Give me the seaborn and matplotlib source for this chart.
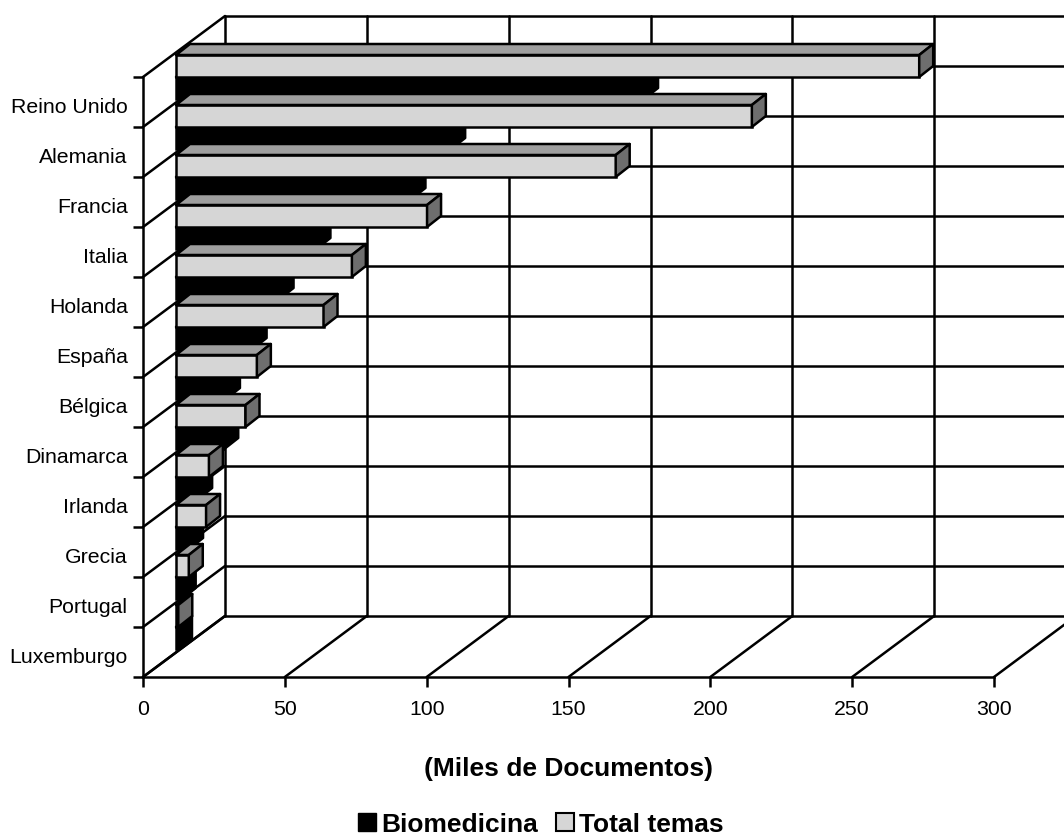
import pandas as pd
import seaborn as sns
import matplotlib.pyplot as plt
import matplotlib.transforms as mtransforms
from matplotlib.patches import Patch, Polygon

paises = ["Reino Unido", "Alemania", "Francia", "Italia", "Holanda", "España",
          "Bélgica", "Dinamarca", "Irlanda", "Grecia", "Portugal", "Luxemburgo"]
total_temas = [262, 203, 155, 88.5, 62, 52, 28.5, 24.5, 11.6, 10.6, 4.5, 0.8]
biomedicina = [165, 97, 83, 49.5, 36.5, 27, 17.6, 17, 7.8, 4.6, 2, 0.7]
xticks = [0, 50, 100, 150, 200, 250, 300]

sns.set_theme(style="white")
plt.rcParams['font.family'] = ['Liberation Sans', 'DejaVu Sans']

df = pd.DataFrame({
    "Pais": paises * 2,
    "Miles": total_temas + biomedicina,
    "Serie": ["Total temas"] * 12 + ["Biomedicina"] * 12,
})

W, H = 1064, 836
fig = plt.figure(figsize=(W / 100, H / 100), dpi=100)
ax = fig.add_axes([143 / W, (H - 677) / H, 851 / W, 600 / H])

lw = 1.8
sns.barplot(data=df, y="Pais", x="Miles", hue="Serie", order=paises,
            hue_order=["Total temas", "Biomedicina"],
            palette={"Total temas": "#d6d6d6", "Biomedicina": "black"},
            width=0.88, edgecolor="black", linewidth=lw, legend=False, ax=ax)
ax.set_xlim(0, 300)
ax.set_ylim(11.5, -0.5)

# escala del dibujo: pixeles a unidades de datos
ux = 851 / 300
uy = 50

# pared del fondo y suelo en falsa perspectiva
wall_x, wall_y = 82 / ux, -61 / uy
bar_x, bar_y = 33 / ux, -0.5
dep_x, dep_y = 14 / ux, -11 / uy
bordes = [i - 0.5 for i in range(13)]

for v in xticks:
    ax.plot([v + wall_x] * 2, [-0.5 + wall_y, 11.5 + wall_y], color="black", lw=lw, zorder=1, clip_on=False)
    ax.plot([v, v + wall_x], [11.5, 11.5 + wall_y], color="black", lw=lw, zorder=1, clip_on=False)
for b in bordes:
    ax.plot([wall_x, 300 + wall_x], [b + wall_y] * 2, color="black", lw=lw, zorder=1, clip_on=False)
    ax.plot([0, wall_x], [b, b + wall_y], color="black", lw=lw, zorder=1, clip_on=False)

# barras desplazadas hacia el fondo, con cara superior y lateral
shift = mtransforms.Affine2D().translate(bar_x, bar_y) + ax.transData
estilos = {0: ("#9f9f9f", "#6e6e6e", 1), 1: ("black", "black", 0)}
for n, cont in enumerate(ax.containers):
    c_top, c_side, z = estilos[n]
    for i, bar in enumerate(cont):
        x1 = bar.get_width() + bar_x
        x0 = bar_x
        y0 = bar.get_y() + bar_y
        y1 = y0 + bar.get_height()
        zo = 10 + 2 * i + z
        bar.set_transform(shift)
        bar.set_clip_on(False)
        bar.set_zorder(zo)
        top = Polygon([(x0, y0), (x1, y0), (x1 + dep_x, y0 + dep_y), (x0 + dep_x, y0 + dep_y)],
                      facecolor=c_top, edgecolor="black", lw=lw, zorder=zo, clip_on=False, joinstyle="round")
        side = Polygon([(x1, y0), (x1 + dep_x, y0 + dep_y), (x1 + dep_x, y1 + dep_y), (x1, y1)],
                       facecolor=c_side, edgecolor="black", lw=lw, zorder=zo, clip_on=False, joinstyle="round")
        ax.add_patch(top)
        ax.add_patch(side)

# ejes
for s in ["top", "right"]:
    ax.spines[s].set_visible(False)
for s in ["left", "bottom"]:
    ax.spines[s].set_linewidth(lw)
    ax.spines[s].set_color("black")
ax.set_xticks(xticks)
ax.tick_params(axis="x", length=7.2, width=lw, color="black", pad=9.5, labelsize=15.3, labelcolor="black", bottom=True)
ax.set_yticks(bordes, minor=True)
ax.tick_params(axis="y", which="minor", length=7.2, width=lw, color="black", left=True)
ax.tick_params(axis="y", which="major", length=0, pad=11, labelsize=15.3, labelcolor="black")
bajar = mtransforms.ScaledTranslation(0, -2.5 / 72, fig.dpi_scale_trans)
for lab in ax.get_yticklabels():
    lab.set_transform(lab.get_transform() + bajar)

ax.set_ylabel("")
ax.set_xlabel("(Miles de Documentos)", fontsize=19, fontweight="bold", color="black", labelpad=27)

handles = [Patch(facecolor="black", edgecolor="black", label="Biomedicina"),
           Patch(facecolor="#d6d6d6", edgecolor="black", lw=1.5, label="Total temas")]
fig.legend(handles=handles, loc="center", bbox_to_anchor=(541 / W, (H - 824.5) / H), ncol=2, frameon=False,
           prop={"family": "Liberation Sans", "weight": "bold", "size": 19},
           handlelength=0.7, handleheight=0.65, handletextpad=0.2, columnspacing=0.65, labelcolor="black")

fig.savefig("out.png", dpi=100, facecolor="white")
